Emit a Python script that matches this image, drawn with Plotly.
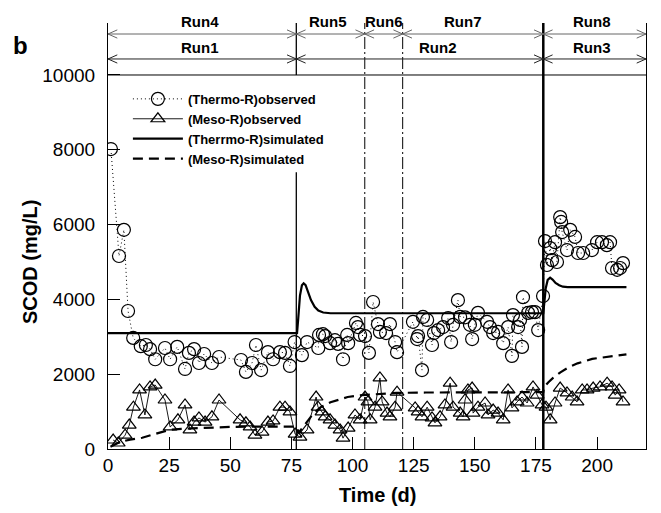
import plotly.graph_objects as go

# ---------------- data ----------------
thermo_obs_t = [1.2, 4.5, 6.5, 8.2, 10.3, 13.4, 15.5, 17.2, 19.3, 23.3, 25.4, 28.3, 31.5, 33.1, 35.2, 37.2, 39.3,
                42.5, 45.4, 54.4, 56.4, 58.9, 60.5, 62.6, 65.4, 67.5, 70.3, 72.4, 74.4, 76.3,
                79.3, 81.4, 86.0, 86.3, 87.9, 88.8, 90.8, 92.8, 94.1, 96.1, 97.8, 98.2, 101.4, 102.2, 103.1,
                105.1, 106.7, 108.4, 110.4, 111.2, 113.7, 115.3, 117.4, 118.2, 124.7, 126.4, 126.8, 128.4,
                128.8, 130.5, 132.5, 133.3, 135.0, 137.0, 139.1, 140.3, 141.1, 143.1, 144.0, 146.0, 148.0,
                148.9, 150.0, 151.3, 155.0, 156.2, 157.5, 159.5, 161.6, 163.6, 165.2, 165.6, 167.7, 168.5,
                169.3, 169.7, 171.8, 173.4, 174.6, 175.9, 177.9, 178.7, 179.5, 180.8, 181.6, 182.8, 183.6,
                184.9, 185.3, 185.7, 187.7, 189.0, 191.0, 192.2, 194.3, 197.9, 200.0, 202.0, 204.0, 205.3,
                206.1, 208.2, 209.4, 210.6]
thermo_obs_v = [8020, 5160, 5860, 3690, 2970, 2750, 2780, 2670, 2400, 2700, 2400, 2730, 2140, 2570, 2670, 2300, 2540,
                2300, 2460, 2380, 2060, 2300, 2780, 2110, 2590, 2400, 2590, 2570, 2220, 2860,
                2510, 2860, 2700, 3050, 3070, 3020, 2830, 2910, 2810, 2400, 3050, 2830, 3370, 3260, 3050,
                3020, 2570, 3930, 3340, 3130, 3100, 3340, 2860, 2590, 3400, 2940, 3020, 2110,
                3530, 3450, 2780, 3100, 3180, 3260, 3500, 2860, 3320, 3980, 3530, 3520, 3320,
                2940, 3320, 3640, 3400, 3260, 3100, 3130, 2830, 3260, 2490, 3580, 3260, 3450,
                2730, 4060, 3640, 3660, 3660, 3180, 4090, 5560, 4920, 5370, 5050, 5530, 5000,
                6200, 6070, 5800, 5320, 5860, 5670, 5240, 5240, 5320, 5530, 5530, 5450, 5530,
                4840, 4790, 4840, 4970]

meso_obs_t = [2.1, 4.2, 7.0, 8.7, 10.4, 12.9, 15.1, 17.2, 19.3, 23.3, 25.4, 28.6, 31.5, 33.5, 35.2, 37.2, 39.7,
              42.5, 45.4, 54.0, 56.4, 58.1, 60.1, 63.0, 65.4, 67.5, 70.3, 72.4, 74.4, 76.5, 78.5, 81.4,
              85.1, 85.9, 87.5, 88.8, 90.8, 92.8, 94.9, 96.1, 98.2, 101.0, 103.1, 105.1, 106.3, 107.2,
              109.2, 111.2, 112.1, 114.1, 115.3, 117.4, 118.2, 125.6, 126.8, 128.4, 130.5, 132.5, 133.7,
              135.8, 137.8, 139.9, 141.1, 144.0, 145.2, 146.0, 147.2, 148.9, 149.3, 151.3, 154.2, 155.4,
              157.5, 159.5, 161.6, 163.6, 165.2, 167.3, 169.3, 171.4, 173.8, 175.5, 177.5, 179.1, 180.8,
              182.8, 184.9, 187.7, 189.8, 191.8, 193.9, 195.9, 198.4, 201.2, 204.1, 206.1, 207.4, 209.0, 210.6]
meso_obs_v = [240, 160, 370, 640, 1120, 1580, 910, 1660, 1710, 1310, 590, 780, 1180, 510, 720, 830, 720,
              860, 1310, 780, 700, 590, 370, 450, 720, 750, 1120, 1120, 990, 400, 320, 510,
              1390, 1120, 990, 860, 780, 640, 510, 290, 560, 910, 780, 1390, 1260, 780,
              1120, 1900, 1260, 960, 860, 1120, 1520, 1100, 990, 860, 1120, 830, 700,
              860, 1180, 1760, 1120, 960, 860, 1310, 1580, 1630, 960, 1120, 1230, 910,
              1040, 960, 780, 1580, 1100, 1260, 1390, 1230, 1660, 1440, 1180, 1120, 780,
              1230, 1630, 1500, 1390, 1260, 1580, 1580, 1630, 1660, 1760, 1660, 1440, 1580, 1260]

thermo_sim_t = [0, 77.3, 77.8, 78.5, 79.3, 80.0, 80.8, 81.8, 83.0, 84.5, 86.0, 88.0, 91.0, 178.0,
                178.4, 179.0, 179.8, 180.8, 181.8, 183.0, 184.5, 186.0, 188.0, 212.0]
thermo_sim_v = [3100, 3100, 3500, 4100, 4380, 4430, 4380, 4200, 3980, 3800, 3700, 3650, 3630, 3630,
                3900, 4300, 4520, 4580, 4530, 4440, 4380, 4340, 4330, 4330]

meso_sim_t = [1, 3, 5, 9, 14, 18, 22, 25, 30, 38, 50, 65, 77.3, 77.8, 79, 80.5, 82, 84, 87, 91, 95, 98,
              104, 111, 118, 130, 150, 178, 178.3, 180, 182, 185, 188, 192, 198, 205, 212]
meso_sim_v = [60, 130, 190, 250, 300, 380, 450, 510, 540, 565, 590, 600, 600, 420, 530, 650, 780, 950,
              1120, 1250, 1340, 1390, 1440, 1470, 1500, 1510, 1520, 1520, 1650, 1780, 1900, 2050, 2170,
              2290, 2410, 2480, 2530]

# run boundaries (days)
run_bounds_top = [0, 77, 105, 120.5, 178, 220]
run_names_top = ["Run4", "Run5", "Run6", "Run7", "Run8"]
run_label_x_top = [37.5, 90, 113, 145, 198]
run_bounds_bot = [0, 77, 178, 220]
run_names_bot = ["Run1", "Run2", "Run3"]
run_label_x_bot = [37.5, 135, 198]

x_ticks = [0, 25, 50, 75, 100, 125, 150, 175, 200]
y_ticks = [0, 2000, 4000, 6000, 8000, 10000]

Y_TOP = 11390
Y_ARROW_TOP = 11096
Y_ARROW_BOT = 10428
Y_LABEL_TOP_PAPER = 1.004
Y_LABEL_BOT = 10748
Y_BOX = 10000

FONT = "Liberation Sans, Arial, sans-serif"

fig = go.Figure()
fig.add_trace(go.Scatter(x=thermo_obs_t, y=thermo_obs_v, mode="lines+markers", name="(Thermo-R)observed",
                         line=dict(color="black", width=1, dash="1px,3px"),
                         marker=dict(symbol="circle-open", size=13, color="black", line=dict(width=1.2))))
fig.add_trace(go.Scatter(x=meso_obs_t, y=meso_obs_v, mode="lines+markers", name="(Meso-R)observed",
                         line=dict(color="black", width=0.9),
                         marker=dict(symbol="triangle-up-open", size=12, color="black", line=dict(width=1.2))))
fig.add_trace(go.Scatter(x=thermo_sim_t, y=thermo_sim_v, mode="lines", name="(Therrmo-R)simulated",
                         line=dict(color="black", width=2.2)))
fig.add_trace(go.Scatter(x=meso_sim_t, y=meso_sim_v, mode="lines", name="(Meso-R)simulated",
                         line=dict(color="black", width=2.2, dash="10px,6px")))

shapes = []
# top box line at 10000
shapes.append(dict(type="line", xref="x", yref="y", x0=0, x1=220, y0=Y_BOX, y1=Y_BOX,
                   line=dict(color="black", width=1)))
# run boundary lines
b77, b105, b120, b178 = run_bounds_top[1], run_bounds_top[2], run_bounds_top[3], run_bounds_top[4]
shapes.append(dict(type="line", xref="x", yref="y", x0=b77, x1=b77, y0=0, y1=7400,
                   line=dict(color="black", width=1.3)))
shapes.append(dict(type="line", xref="x", yref="y", x0=b77, x1=b77, y0=Y_BOX, y1=Y_TOP,
                   line=dict(color="black", width=1.3)))
for xb in (b105, b120):
    shapes.append(dict(type="line", xref="x", yref="y", x0=xb, x1=xb, y0=0, y1=Y_TOP,
                       line=dict(color="black", width=1, dash="12px,3px,2px,3px")))
shapes.append(dict(type="line", xref="x", yref="y", x0=b178, x1=b178, y0=0, y1=Y_TOP,
                   line=dict(color="black", width=2.5)))

# arrow rows
DX = 3.8
DY = 110
for bounds, yv, col in ((run_bounds_top, Y_ARROW_TOP, "#666"), (run_bounds_bot, Y_ARROW_BOT, "#222")):
    shapes.append(dict(type="line", xref="x", yref="y", x0=bounds[0], x1=bounds[-1], y0=yv, y1=yv,
                       line=dict(color=col, width=1)))
    for a, b in zip(bounds[:-1], bounds[1:]):
        shapes.append(dict(type="path", xref="x", yref="y",
                           path=f"M {a+DX},{yv+DY} L {a},{yv} L {a+DX},{yv-DY}",
                           line=dict(color=col, width=1)))
        shapes.append(dict(type="path", xref="x", yref="y",
                           path=f"M {b-DX},{yv+DY} L {b},{yv} L {b-DX},{yv-DY}",
                           line=dict(color=col, width=1)))

annotations = []
for name, xv in zip(run_names_top, run_label_x_top):
    annotations.append(dict(x=xv, y=Y_LABEL_TOP_PAPER, xref="x", yref="paper", text=f"<b>{name}</b>",
                            xanchor="center", yanchor="middle",
                            showarrow=False, font=dict(family=FONT, size=15, color="black")))
for name, xv in zip(run_names_bot, run_label_x_bot):
    annotations.append(dict(x=xv, y=Y_LABEL_BOT, xref="x", yref="y", text=f"<b>{name}</b>",
                            xanchor="center", yanchor="middle",
                            showarrow=False, font=dict(family=FONT, size=15, color="black")))
annotations.append(dict(x=-0.145, y=Y_BOX / 2 / Y_TOP, xref="paper", yref="paper", text="<b>SCOD (mg/L)</b>",
                        xanchor="center", yanchor="middle",
                        textangle=-90, showarrow=False, font=dict(family=FONT, size=20, color="black")))
annotations.append(dict(x=0.5, y=-0.108, xref="paper", yref="paper", text="<b>Time (d)</b>",
                        xanchor="center", yanchor="middle",
                        showarrow=False, font=dict(family=FONT, size=20, color="black")))
annotations.append(dict(x=-0.163, y=0.948, xref="paper", yref="paper", text="<b>b</b>",
                        xanchor="center", yanchor="middle",
                        showarrow=False, font=dict(family=FONT, size=24, color="black")))

fig.update_layout(
    width=661, height=513, autosize=False,
    margin=dict(l=108, r=15, t=23, b=64),
    paper_bgcolor="white", plot_bgcolor="white",
    font=dict(family=FONT, color="black"),
    showlegend=True,
    legend=dict(x=0.037, y=0.857, xanchor="left", yanchor="top", bgcolor="rgba(0,0,0,0)",
                font=dict(family=FONT, size=13, color="black", weight="bold"),
                itemwidth=50, tracegroupgap=0),
    shapes=shapes,
    annotations=annotations,
    xaxis=dict(range=[0, 220], tickvals=x_ticks, ticktext=[str(v) for v in x_ticks],
               ticks="inside", ticklen=12, tickwidth=1.3, tickcolor="black",
               showline=True, linecolor="black", linewidth=1.2, mirror=False,
               showgrid=False, zeroline=False, tickfont=dict(size=19, family=FONT),
               ticklabelstandoff=-1),
    yaxis=dict(range=[0, Y_TOP], tickvals=y_ticks, ticktext=[str(v) for v in y_ticks],
               ticks="inside", ticklen=12, tickwidth=1.3, tickcolor="black",
               showline=True, linecolor="black", linewidth=1.2, mirror=True,
               showgrid=False, zeroline=False, tickfont=dict(size=19, family=FONT),
               ticklabelstandoff=8),
)

fig.write_html("out.html", config={"responsive": False, "displayModeBar": False},
               post_script="document.body.style.margin='0';document.body.style.padding='0';")
